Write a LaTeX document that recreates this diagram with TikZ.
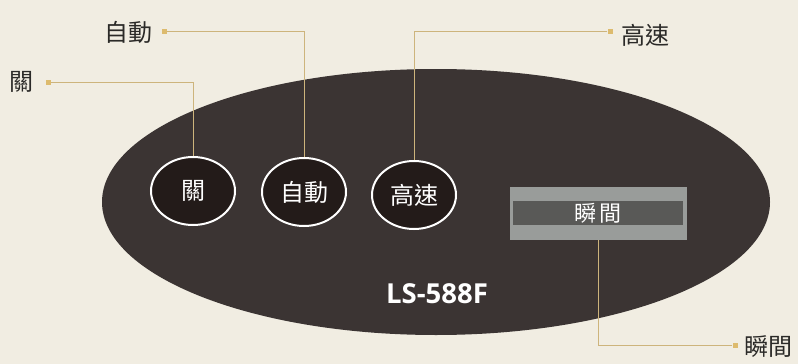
\documentclass[tikz,border=0pt]{standalone}
\usepackage{fontspec}
\usetikzlibrary{shapes.geometric}
\newfontfamily\cjk{Noto Sans CJK TC}
\newfontfamily\latinb{Open Sans}
\definecolor{bgc}{HTML}{F1EDE2}
\definecolor{panel}{HTML}{3B3433}
\definecolor{btn}{HTML}{231B19}
\definecolor{gold}{HTML}{CDB47C}
\definecolor{golddot}{HTML}{DDBB6E}
\definecolor{greyout}{HTML}{999C9A}
\definecolor{greyin}{HTML}{595957}
\definecolor{labc}{HTML}{2B2A28}
\begin{document}
\begin{tikzpicture}[x=1pt,y=-1pt,
  button/.style={ellipse,draw=white,line width=2pt,fill=btn,minimum width=84pt,minimum height=68pt,inner sep=0pt,text=white,font=\cjk\fontsize{24}{24}\selectfont},
  label/.style={inner sep=0pt,text=labc,font=\cjk\fontsize{24}{24}\selectfont},
  dot/.style={rectangle,fill=golddot,minimum size=5pt,inner sep=0pt},
  leader/.style={draw=gold,line width=1pt}]
\fill[bgc] (0,0) rectangle (798,364);
\useasboundingbox (0,0) rectangle (798,364);
\fill[panel] (436,202) ellipse [x radius=334, y radius=133];
% buttons
\node[button] (b1) at (193,191) {關};
\node[button] (b2) at (304,192) {自動};
\node[button] (b3) at (414,195) {高速};
% momentary rectangle
\node[rectangle,fill=greyout,minimum width=177pt,minimum height=53pt,inner sep=0pt] (r) at (598.5,213.5) {};
\node[rectangle,fill=greyin,minimum width=170pt,minimum height=24pt,inner sep=0pt,text=white,font=\cjk\fontsize{22}{22}\selectfont] (ri) at (598,213) {瞬\,間};
% model
\node[text=white,font=\latinb\bfseries\fontsize{27.5}{27.5}\selectfont,inner sep=0pt] (model) at (437,294) {LS-588F};
% callouts
\node[label,anchor=west] (l1) at (9,82) {關};
\node[dot] (d1) at (48,82) {};
\node[label,anchor=west] (l2) at (104,32) {自動};
\node[dot] (d2) at (164,31) {};
\node[dot] (d3) at (610,31) {};
\node[label,anchor=west] (l3) at (621,35) {高速};
\node[dot] (d4) at (735,345) {};
\node[label,anchor=west] (l4) at (744,347) {瞬間};
\draw[leader] (d1) -| (b1.north);
\draw[leader] (d2) -| (b2.north);
\draw[leader] (d3) -| (b3.north);
\draw[leader] (d4) -| (r.south);
\end{tikzpicture}
\end{document}
